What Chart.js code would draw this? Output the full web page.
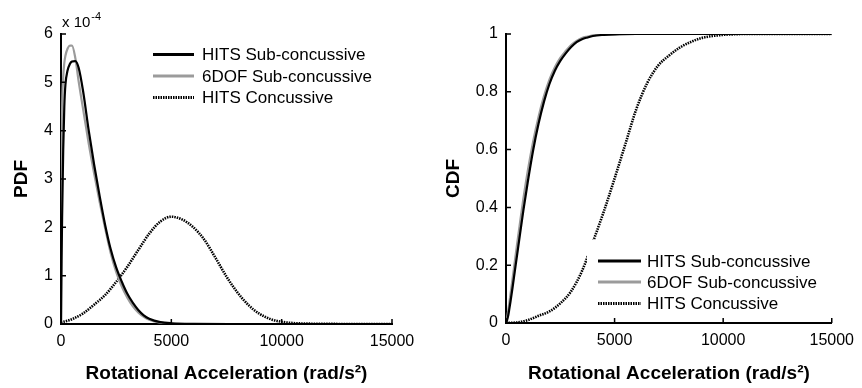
<!DOCTYPE html>
<html>
<head>
<meta charset="utf-8">
<script src="https://cdn.jsdelivr.net/npm/chart.js@4.4.1/dist/chart.umd.min.js"></script>
<style>
  html,body{margin:0;padding:0;background:#fff;}
  #wrap{position:relative;width:862px;height:388px;overflow:hidden;}
  #pdf{position:absolute;left:0;top:0;}
  #cdf{position:absolute;left:430px;top:0;}
</style>
</head>
<body>
<div id="wrap">
  <canvas id="pdf" width="430" height="388"></canvas>
  <canvas id="cdf" width="432" height="388"></canvas>
</div>
<script>
// series names
const seriesNames = ['HITS Sub-concussive', '6DOF Sub-concussive', 'HITS Concussive'];

// rotational acceleration (rad/s^2) sample points
const subAccel  = [0, 25, 50, 100, 150, 200, 300, 400, 500, 650, 800, 1000, 1250, 1500, 1750, 2000, 2250, 2500, 2750, 3000, 3250, 3500, 3750, 4000, 4500, 5000, 6000, 8000, 10000, 15000];
const concAccel = [0, 500, 1000, 1500, 2000, 2500, 3000, 3500, 4000, 4500, 5000, 5500, 6000, 6500, 7000, 7500, 8000, 8500, 9000, 9500, 10000, 10500, 11000, 12000, 13000, 15000];

// PDF values, in units of 10^-4
const hitsSubPdf  = [0, 1.3, 2.2, 3.6, 4.5, 4.95, 5.25, 5.38, 5.43, 5.44, 5.3, 4.82, 4.02, 3.3, 2.65, 2.05, 1.55, 1.17, 0.88, 0.63, 0.44, 0.29, 0.18, 0.11, 0.04, 0.015, 0.003, 0, 0, 0];
const dofSubPdf   = [0, 3.0, 4.4, 5.1, 5.4, 5.55, 5.7, 5.76, 5.76, 5.5, 5.02, 4.45, 3.75, 3.12, 2.53, 1.98, 1.47, 1.08, 0.78, 0.55, 0.37, 0.24, 0.15, 0.09, 0.03, 0.01, 0, 0, 0, 0];
const hitsConcPdf = [0.03, 0.1, 0.22, 0.4, 0.6, 0.87, 1.18, 1.53, 1.87, 2.12, 2.22, 2.16, 2.0, 1.74, 1.37, 0.98, 0.65, 0.39, 0.21, 0.1, 0.045, 0.02, 0.01, 0.003, 0.001, 0];

// CDF values
const hitsSubCdf  = [0, 0.004, 0.01, 0.025, 0.047, 0.071, 0.122, 0.176, 0.23, 0.31, 0.39, 0.487, 0.598, 0.69, 0.766, 0.827, 0.873, 0.907, 0.933, 0.955, 0.972, 0.982, 0.988, 0.993, 0.997, 0.999, 1, 1, 1, 1];
const dofSubCdf   = [0, 0.008, 0.018, 0.042, 0.068, 0.096, 0.152, 0.21, 0.267, 0.35, 0.43, 0.525, 0.628, 0.714, 0.785, 0.842, 0.885, 0.917, 0.941, 0.962, 0.976, 0.986, 0.991, 0.995, 0.998, 0.999, 1, 1, 1, 1];
const hitsConcCdf = [0, 0.002, 0.01, 0.025, 0.04, 0.068, 0.11, 0.18, 0.28, 0.385, 0.5, 0.62, 0.74, 0.83, 0.89, 0.925, 0.953, 0.972, 0.986, 0.993, 0.997, 0.999, 1, 1, 1, 1];

// tick labels
const xTicks   = [0, 5000, 10000, 15000];
const pdfTicks = [0, 1, 2, 3, 4, 5, 6];
const cdfTicks = [0, 0.2, 0.4, 0.6, 0.8, 1];

const FONT = "'Liberation Sans', Arial, Helvetica, sans-serif";
Chart.defaults.font.family = FONT;
Chart.defaults.color = '#000';

const lineStyles = [
  { color: '#000000', width: 2.2, dash: [] },
  { color: '#9b9b9b', width: 2.2, dash: [] },
  { color: '#000000', width: 2.6, dash: [1.5, 1] }
];

function pts(xs, ys){ return xs.map((x, i) => ({ x: x, y: ys[i] })); }

function makeSets(a, b, c){
  return [pts(subAccel, a), pts(subAccel, b), pts(concAccel, c)].map((d, i) => ({
    label: seriesNames[i],
    data: d,
    borderColor: lineStyles[i].color,
    borderWidth: lineStyles[i].width,
    borderDash: lineStyles[i].dash,
    pointRadius: 0,
    fill: false,
    cubicInterpolationMode: 'monotone'
  }));
}

// small inward tick marks, like the original axes
const inTicks = {
  id: 'inTicks',
  afterDraw(chart){
    const { ctx, chartArea: a, scales: { x, y } } = chart;
    ctx.save();
    ctx.strokeStyle = '#000';
    ctx.lineWidth = 1.5;
    ctx.beginPath();
    x.ticks.forEach(t => { const px = x.getPixelForValue(t.value); ctx.moveTo(px, a.bottom); ctx.lineTo(px, a.bottom - 5); });
    y.ticks.forEach(t => { const py = y.getPixelForValue(t.value); ctx.moveTo(a.left, py); ctx.lineTo(a.left + 5, py); });
    ctx.stroke();
    ctx.restore();
  }
};

// legend drawn inside the plot with a white box
const boxLegend = {
  id: 'boxLegend',
  afterDatasetsDraw(chart, args, o){
    const ctx = chart.ctx;
    ctx.save();
    ctx.fillStyle = '#fff';
    ctx.fillRect(o.x, o.y, o.w, o.h);
    ctx.font = '17px ' + FONT;
    ctx.textBaseline = 'middle';
    chart.data.datasets.forEach((ds, i) => {
      const ry = o.rows[i];
      ctx.strokeStyle = ds.borderColor;
      ctx.lineWidth = ds.borderWidth + 0.6;
      ctx.setLineDash(ds.borderDash);
      ctx.beginPath();
      ctx.moveTo(o.lineX, ry);
      ctx.lineTo(o.lineX + o.lineLen, ry);
      ctx.stroke();
      ctx.setLineDash([]);
      ctx.fillStyle = '#000';
      ctx.fillText(ds.label, o.textX, ry + 1);
    });
    ctx.restore();
  }
};

// "x 10^-4" multiplier above the PDF axis
const expLabel = {
  id: 'expLabel',
  afterDraw(chart, args, o){
    if (!o.show) return;
    const ctx = chart.ctx, a = chart.chartArea;
    ctx.save();
    ctx.fillStyle = '#000';
    ctx.textBaseline = 'alphabetic';
    ctx.font = '15px ' + FONT;
    ctx.fillText('x 10', a.left + 1, 27);
    const w = ctx.measureText('x 10').width;
    ctx.font = '11px ' + FONT;
    ctx.fillText('-4', a.left + 1 + w + 1, 20);
    ctx.restore();
  }
};

function makeChart(id, sets, yTicks, yTitle, L){
  return new Chart(document.getElementById(id), {
    type: 'line',
    data: { datasets: sets },
    plugins: [inTicks, boxLegend, expLabel],
    options: {
      responsive: false,
      animation: false,
      layout: { padding: { left: 0, right: L.right, top: 34, bottom: 0 } },
      plugins: {
        legend: { display: false },
        tooltip: { enabled: false },
        boxLegend: L.legend,
        expLabel: { show: L.exp }
      },
      scales: {
        x: {
          type: 'linear', min: 0, max: 15000,
          afterBuildTicks: s => { s.ticks = xTicks.map(v => ({ value: v })); },
          afterFit: s => { s.height = L.xh; },
          grid: { display: false, drawTicks: false },
          border: { display: true, color: '#000', width: 2 },
          ticks: { padding: 8, font: { size: 16 }, color: '#000', callback: v => String(v) },
          title: { display: true, text: 'Rotational Acceleration (rad/s²)', font: { size: 19, weight: 'bold' }, color: '#000', padding: { top: 0, bottom: 3 } }
        },
        y: {
          type: 'linear', min: yTicks[0], max: yTicks[yTicks.length - 1],
          afterBuildTicks: s => { s.ticks = yTicks.map(v => ({ value: v })); },
          afterFit: s => { s.width = L.yw; },
          grid: { display: false, drawTicks: false },
          border: { display: true, color: '#000', width: 2 },
          ticks: { padding: 8, font: { size: 16 }, color: '#000', callback: v => String(v) },
          title: { display: true, text: yTitle, font: { size: 19, weight: 'bold' }, color: '#000', padding: { top: L.ytp, bottom: 0 } }
        }
      }
    }
  });
}

makeChart('pdf', makeSets(hitsSubPdf, dofSubPdf, hitsConcPdf), pdfTicks, 'PDF', {
  right: 38, xh: 64, yw: 61, ytp: 10, exp: true,
  legend: { x: 148, y: 42, w: 240, h: 66, lineX: 153, lineLen: 41, textX: 202, rows: [54.5, 76, 97.5] }
});

makeChart('cdf', makeSets(hitsSubCdf, dofSubCdf, hitsConcCdf), cdfTicks, 'CDF', {
  right: 26, xh: 65, yw: 76, ytp: 12, exp: false,
  legend: { x: 157, y: 240, w: 250, h: 74, lineX: 168, lineLen: 43, textX: 217, rows: [261, 282, 303.5] }
});
</script>
</body>
</html>
